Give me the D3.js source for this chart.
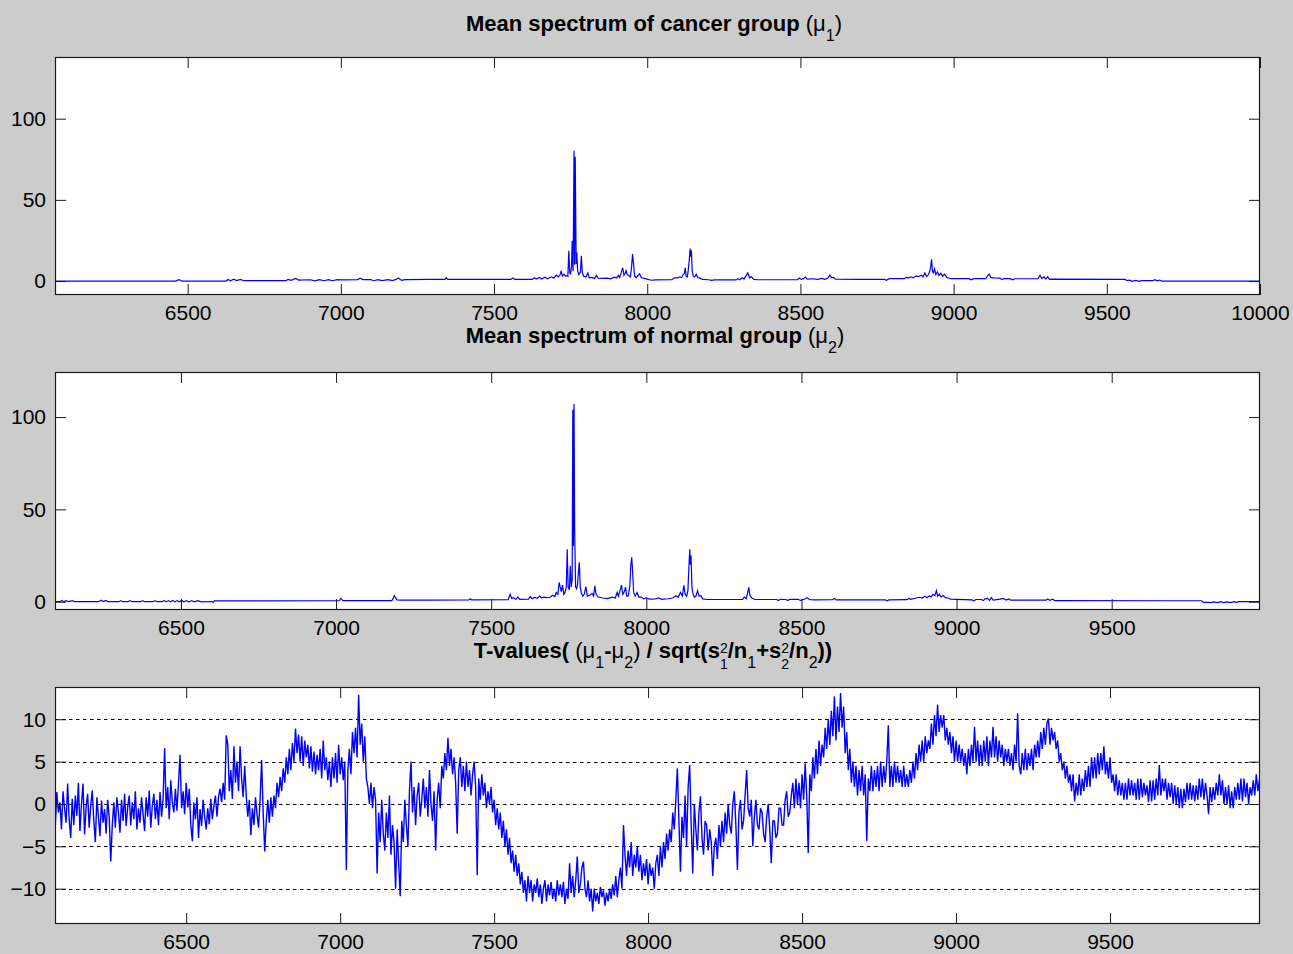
<!DOCTYPE html>
<html>
<head>
<meta charset="utf-8">
<script src="https://cdn.jsdelivr.net/npm/d3@7"></script>
<style>
  body { margin: 0; background: #cccccc; }
  svg { display: block; }
  text { font-family: "Liberation Sans", Arial, Helvetica, sans-serif; fill: #000; }
</style>
</head>
<body>
<svg id="fig" width="1293" height="954"></svg>
<script>
// ---- Mean spectrum of the cancer group: [m/z, intensity]
const cancerSpectrum = [
  [6067,0],[6300,0],[6460,0],[6472,0.9],[6482,0],[6625,0],[6632,1.0],[6640,0.2],[6650,1.1],[6660,0.3],[6672,1.0],[6684,0.2],
  [6820,0.2],[6828,1.0],[6838,0.4],[6852,1.6],[6862,0.6],[6900,0.8],[6915,0.1],[6930,0.9],[6945,0.2],[6960,0.9],[6972,0.2],
  [6988,0.9],[7000,0.7],[7055,0.9],[7063,1.8],[7072,0.9],[7098,0.9],[7106,0.2],[7122,0.9],[7134,0.3],[7155,0.9],[7168,0.3],
  [7180,1.0],[7188,1.9],[7198,0.4],[7210,0.9],[7290,1.0],[7340,1.0],[7344,2.0],[7349,1.0],[7555,1.0],[7562,1.9],[7568,1.0],
  [7625,1.0],[7632,2.0],[7638,1.2],[7648,2.2],[7655,1.2],[7666,2.4],[7674,1.4],[7688,2.6],[7695,1.8],[7703,3.6],[7710,2.5],
  [7716,4.0],[7719,6.3],[7723,3.0],[7728,4.2],[7733,3.0],[7738,3.5],[7741,3.0],[7744,18.7],[7747,5.0],[7750,4.5],[7753,9.0],
  [7755,24.8],[7758,6.0],[7761,80.2],[7763,10],[7765,76.5],[7768,10.5],[7770,17.5],[7773,6.0],[7777,4.0],[7782,5.5],
  [7785,15.6],[7788,5.5],[7792,3.0],[7800,2.5],[7806,5.0],[7811,2.0],[7820,2.2],[7828,1.5],[7834,3.5],[7840,1.8],[7855,1.6],
  [7870,1.8],[7880,1.4],[7893,2.4],[7900,1.8],[7906,3.5],[7910,2.2],[7915,5.0],[7920,8.2],[7924,3.5],[7928,4.8],[7931,6.5],
  [7935,3.8],[7939,3.6],[7945,2.5],[7949,9.0],[7952,16.6],[7955,11.0],[7959,3.0],[7964,2.0],[7970,3.5],[7975,4.5],[7981,2.0],
  [7990,1.6],[8005,0.9],[8015,0.5],[8025,0.7],[8080,0.8],[8088,2.0],[8100,2.0],[8106,2.6],[8112,2.0],[8117,4.0],[8121,4.5],
  [8124,8.2],[8127,3.0],[8131,2.5],[8134,7.0],[8137,12.5],[8140,20.0],[8142,15.0],[8144,19.0],[8147,6.0],[8150,3.0],[8155,2.5],
  [8160,4.2],[8165,2.2],[8172,1.8],[8180,1.0],[8200,0.8],[8210,0.4],[8220,0.7],[8290,0.7],[8296,1.5],[8302,0.8],[8310,2.0],
  [8316,1.2],[8322,3.2],[8328,5.0],[8334,2.0],[8340,2.6],[8348,1.0],[8360,0.8],[8490,0.8],[8496,1.8],[8503,1.0],[8510,1.5],
  [8516,2.5],[8522,1.2],[8540,1.4],[8555,1.0],[8570,1.6],[8580,1.0],[8590,1.8],[8596,3.6],[8602,2.0],[8608,2.2],[8614,1.2],
  [8692,1.0],[8775,1.0],[8780,0.5],[8790,1.5],[8840,1.5],[8846,2.4],[8852,1.8],[8860,2.6],[8868,2.0],[8878,3.2],[8885,2.8],
  [8895,3.6],[8900,2.5],[8906,5.0],[8912,2.8],[8918,4.0],[8922,6.0],[8925,8.5],[8928,13.4],[8931,6.0],[8934,5.0],[8938,7.5],
  [8942,4.0],[8947,5.5],[8952,3.5],[8958,4.8],[8964,3.0],[8970,4.2],[8978,2.2],[8990,1.5],[9050,1.5],[9058,0.8],[9066,1.5],
  [9105,1.5],[9110,3.0],[9116,4.3],[9122,2.2],[9130,2.0],[9150,1.8],[9158,1.0],[9166,1.5],[9185,1.5],[9192,0.8],[9200,1.4],
  [9275,1.4],[9282,3.5],[9288,1.5],[9295,2.6],[9301,1.2],[9307,2.6],[9313,1.0],[9320,1.2],[9560,1.0],[9566,0.2],[9575,0.5],
  [9582,-0.2],[9595,0.4],[9605,-0.2],[9615,0.3],[9650,0.2],[9657,0.8],[9664,0.1],[9672,0.6],[9680,0.0],[10000,0.0]
];

// ---- Mean spectrum of the normal group: [m/z, intensity]
const normalSpectrum = [
  [6094,0],[6110,0],[6116,0.7],[6122,0],[6130,0.6],[6138,0],[6150,0.6],[6158,0],[6235,0],[6242,0.8],[6250,0.1],[6258,0.7],
  [6265,0],[6300,0],[6306,0.6],[6312,0],[6330,0],[6336,0.6],[6342,0],[6370,0],[6376,0.6],[6382,0],[6410,0],[6416,0.6],
  [6422,0],[6440,0],[6446,0.7],[6452,-0.1],[6460,0.6],[6466,-0.1],[6474,0.7],[6480,-0.1],[6488,0.6],[6494,-0.1],[6502,0.7],
  [6510,-0.1],[6518,0.6],[6526,-0.2],[6534,0.6],[6542,-0.1],[6555,0.6],[6565,-0.1],[6600,0.1],[6604,-0.4],[6608,0.4],
  [7010,0.5],[7016,1.8],[7022,0.6],[7180,0.6],[7188,3.2],[7196,1.0],[7210,0.8],[7300,0.9],[7428,1.0],[7432,1.6],[7437,1.0],
  [7555,1.1],[7561,4.0],[7566,1.8],[7572,2.2],[7580,1.2],[7586,2.6],[7592,1.3],[7620,1.4],[7626,2.8],[7632,1.6],[7640,2.3],
  [7648,1.8],[7656,3.0],[7662,2.0],[7670,2.6],[7678,2.2],[7690,2.4],[7698,3.5],[7705,2.8],[7710,5.0],[7715,4.0],[7719,10.5],
  [7723,7.5],[7726,5.5],[7730,9.0],[7734,4.0],[7738,5.0],[7742,8.0],[7745,28.4],[7748,8.0],[7752,6.5],[7755,19.4],[7758,8.0],
  [7761,12],[7763,104],[7765,30],[7767,107],[7769,39],[7772,8.0],[7775,7.0],[7778,9.0],[7781,16],[7784,21.3],[7787,8.0],
  [7790,5.0],[7795,3.0],[7800,4.0],[7805,8.2],[7810,3.0],[7818,3.5],[7825,4.5],[7830,3.0],[7834,8.6],[7838,4.0],[7845,2.5],
  [7860,2.0],[7875,1.7],[7890,2.5],[7900,2.0],[7906,5.0],[7910,3.0],[7916,6.5],[7920,9.0],[7924,4.0],[7928,5.0],[7933,7.8],
  [7937,3.0],[7942,3.2],[7947,9.0],[7950,20],[7953,24],[7956,16],[7959,5.0],[7964,3.0],[7970,5.0],[7976,2.5],[7984,2.5],
  [7992,1.5],[8000,2.0],[8010,1.4],[8030,1.5],[8040,2.0],[8050,1.3],[8070,1.6],[8085,2.0],[8095,3.2],[8103,2.5],[8110,5.0],
  [8116,3.0],[8121,8.8],[8125,4.0],[8130,3.0],[8134,6.0],[8137,18],[8140,28.4],[8142,20],[8144,25],[8147,8.0],[8150,4.5],
  [8155,2.5],[8160,3.0],[8165,6.0],[8170,3.0],[8176,3.2],[8182,1.5],[8195,1.2],[8310,1.2],[8316,2.5],[8322,1.6],[8326,4.5],
  [8330,7.8],[8334,3.5],[8340,2.0],[8350,1.2],[8420,1.2],[8426,0.6],[8432,1.3],[8450,1.2],[8456,0.6],[8462,1.3],[8490,1.3],
  [8496,0.7],[8510,1.3],[8518,2.2],[8525,1.2],[8540,1.0],[8600,1.1],[8606,1.8],[8612,1.0],[8680,1.0],[8770,1.0],[8775,0.5],
  [8782,1.0],[8840,1.1],[8846,1.8],[8852,1.3],[8870,2.0],[8880,2.4],[8890,2.0],[8898,3.0],[8905,2.2],[8912,3.2],[8918,2.6],
  [8924,4.0],[8930,3.2],[8935,6.0],[8939,3.0],[8944,4.0],[8950,2.6],[8957,3.4],[8964,2.2],[8972,2.0],[8980,1.4],[9000,1.3],
  [9050,1.0],[9056,0.5],[9062,1.2],[9080,1.2],[9086,0.6],[9092,1.5],[9100,1.8],[9106,0.7],[9112,2.2],[9118,0.9],[9140,1.4],
  [9150,1.8],[9160,0.9],[9168,1.5],[9175,0.8],[9288,0.8],[9294,1.5],[9300,0.7],[9310,1.4],[9316,0.6],[9330,0.6],[9700,0.5],
  [9790,0.5],[9795,-0.4],[9810,-0.3],[9820,-0.5],[9830,-0.1],[9840,-0.5],[9852,0.0],[9860,-0.5],[9872,-0.1],[9882,-0.5],
  [9895,0.0],[9902,-0.4],[9910,0.0],[9978,0.0]
];

// ---- T-values, sampled every tMzStep starting at tMzStart (one row = 50 m/z)
const tMzStart = 6070;
const tMzStep = 5;
const tValues = [
  0.8, -2.6, 1.4, -1.0, 0.2, -3.0, 1.5, -0.5, -2.2, 2.4,
  -1.8, -4.0, 0.6, -2.5, 1.0, -1.4, 2.5, -3.2, 0.0, 2.4,
  -3.6, -0.4, 1.2, -2.8, -0.2, 1.6, -2.0, -4.5, 0.8, -1.5,
  -3.8, 0.4, -2.2, -0.6, -3.5, 0.5, -1.5, -6.8, -2.5, 0.2,
  -2.8, 0.8, -1.0, -3.4, 0.5, -2.0, 1.2, -2.6, -0.4, 1.0,
  -2.5, 0.2, -1.8, 1.5, -3.0, -0.5, -2.2, 0.8, -1.2, -3.2,
  0.8, -1.5, 1.6, -2.8, -0.2, 1.2, -1.8, 0.5, -2.5, 1.4,
  -1.5, 0.6, 6.6, -0.5, 2.0, -1.8, 2.8, 0.2, -1.0, 1.8,
  -0.8, 2.4, 5.8, -0.5, 1.5, -1.2, 2.5, -0.4, 1.8, -2.5,
  -4.4, 0.2, -1.8, 0.8, -4.0, -0.6, -2.6, 0.5, -1.5, -3.0,
  -0.5, -2.4, 0.6, -1.8, -0.2, 1.0, -1.5, 0.8, 1.8, 0.2,
  2.5, 0.5, 8.1, 7.0, 1.5, 4.0, 0.6, 6.8, 2.5, 5.0,
  1.5, 6.8, 3.0, 0.8, 4.5, 1.0, -1.5, 0.5, -3.7, -0.5,
  -2.5, 0.8, -1.2, -2.8, 0.5, 5.2, -1.0, -5.6, -2.0, 0.5,
  -2.2, 0.8, -1.5, 1.0, -0.5, 2.5, 0.8, 3.2, 1.5, 4.2,
  2.5, 5.5, 3.5, 6.5, 4.0, 7.2, 5.0, 8.9, 6.0, 8.2,
  5.0, 8.0, 4.5, 7.5, 5.5, 7.0, 4.2, 6.8, 3.8, 6.2,
  3.5, 5.8, 4.0, 6.5, 3.0, 7.5, 4.0, 5.5, 2.8, 5.0,
  2.0, 5.5, 3.0, 6.0, 2.5, 7.0, 3.5, 5.5, 2.8, 5.0,
  -7.8, 4.0, 6.5, 3.5, 8.5, 6.0, 9.0, 5.5, 12.9, 7.0,
  9.5, 5.0, 8.0, 3.0, 2.0, 0.0, 2.5, -0.5, 2.0, 0.5,
  -8.2, -1.0, -4.5, 0.5, -3.5, -5.5, -1.0, -4.0, 1.0, -6.0,
  -2.5, -4.5, -10.0, -3.0, -7.0, -10.9, -2.0, -4.5, 0.5, -2.5,
  -5.0, 1.5, 5.0, -1.0, 2.0, -2.5, 1.0, 2.5, -1.5, 0.5,
  3.0, -0.5, 2.0, -1.5, 4.0, 0.0, -2.0, 1.5, -5.5, 0.5,
  2.5, -0.5, 4.5, 3.0, 6.0, 4.0, 7.8, 4.5, 6.5, 3.5,
  5.5, 2.5, -3.5, 4.0, 5.5, 2.0, 4.5, 1.5, 5.0, 2.0,
  4.0, 1.0, 3.5, 5.0, 2.0, -8.4, 3.0, 0.5, 3.5, 1.0,
  2.5, -0.5, 1.5, 0.0, 2.0, -1.0, 0.5, -2.5, -0.5, -3.0,
  -1.0, -4.0, -2.0, -5.0, -3.0, -6.0, -4.0, -7.0, -5.5, -8.0,
  -6.0, -8.5, -7.0, -9.5, -8.0, -10.5, -9.0, -11.5, -8.5, -10.5,
  -9.0, -11.5, -9.5, -10.5, -8.8, -11.0, -9.5, -11.8, -10.0, -9.0,
  -11.5, -9.5, -10.8, -9.2, -11.2, -10.0, -11.5, -9.0, -10.8, -9.5,
  -11.0, -9.2, -11.8, -10.0, -11.2, -7.0, -10.5, -8.5, -11.0, -9.0,
  -6.2, -10.5, -9.5, -7.5, -6.8, -10.0, -11.0, -9.0, -11.5, -10.0,
  -12.7, -10.0, -11.5, -10.5, -11.8, -9.8, -11.0, -10.2, -12.0, -10.5,
  -11.5, -10.0, -11.2, -9.5, -10.8, -8.5, -11.0, -9.0, -7.5, -10.0,
  -2.5, -6.0, -8.5, -5.5, -7.5, -4.5, -8.5, -6.0, -7.5, -5.0,
  -8.0, -6.0, -9.0, -7.0, -8.5, -6.5, -9.5, -7.0, -8.5, -7.5,
  -10.0, -7.0, -6.0, -8.5, -5.0, -7.5, -4.5, -6.5, -3.5, -5.5,
  -3.0, -4.5, -1.0, -3.0, 0.5, 4.2, -2.0, -8.0, -1.5, -4.0,
  1.0, -5.0, 2.0, 4.6, -2.5, -8.2, 0.0, -3.0, -5.5, -1.0,
  0.9, -4.0, -6.0, -2.0, -2.5, -5.5, -3.0, -4.5, -8.5, -5.0,
  -4.0, -6.5, -2.5, -5.0, -2.0, -4.5, -1.0, -3.5, 0.0, -2.5,
  -3.5, 0.0, 1.5, -2.5, -7.8, -1.0, 0.5, -3.0, -2.0, 1.0,
  4.0, -0.5, -1.5, 0.5, -5.0, -1.5, 0.5, -2.5, -3.0, -0.5,
  -1.0, -3.5, -4.5, -1.5, 0.0, -3.0, -7.0, -2.0, -2.0, -4.0,
  -3.5, -0.5, -0.5, -2.5, -2.5, 0.5, 1.5, -1.5, -1.0, 1.0,
  2.5, -0.5, 3.0, 0.0, 2.5, -0.5, 3.5, 0.5, 4.8, 1.0,
  -5.8, 3.5, 1.5, 5.5, 3.0, 6.5, 3.5, 7.5, 4.5, 7.0,
  5.5, 9.0, 6.5, 10.0, 7.0, 11.0, 8.0, 12.7, 7.5, 11.5,
  8.5, 13.1, 9.0, 11.5, 6.0, 8.5, 4.0, 6.5, 2.5, 5.0,
  2.0, 4.5, 1.0, 4.0, 1.5, 4.5, 1.0, 3.5, -4.4, 3.0,
  1.5, 4.5, 1.5, 4.0, 2.0, 4.5, 1.5, 5.0, 2.0, 4.5,
  2.5, 5.0, 9.3, 2.0, 4.5, 2.0, 5.0, 2.5, 4.5, 2.5,
  4.0, 2.0, 4.5, 2.0, 3.5, 2.0, 4.0, 2.5, 5.0, 3.0,
  6.0, 4.0, 7.0, 5.0, 7.5, 5.0, 8.0, 6.0, 7.5, 6.5,
  9.5, 7.0, 10.5, 8.0, 11.7, 8.5, 10.5, 9.0, 10.5, 7.5,
  9.0, 7.0, 8.5, 6.0, 8.0, 5.0, 7.5, 5.0, 7.0, 5.0,
  6.5, 4.5, 6.0, 3.5, 6.5, 4.5, 7.0, 5.0, 9.1, 5.0,
  7.5, 4.5, 7.0, 4.5, 7.5, 5.0, 8.0, 4.5, 7.5, 5.5,
  9.1, 5.5, 8.0, 5.0, 7.5, 5.5, 7.0, 4.5, 6.5, 5.0,
  6.5, 4.5, 6.0, 4.0, 7.0, 5.0, 10.7, 4.5, 3.5, 6.0,
  4.0, 6.5, 4.0, 6.0, 4.5, 6.5, 4.0, 7.0, 5.5, 7.5,
  5.5, 8.5, 6.5, 9.0, 7.0, 9.5, 10.1, 7.0, 9.0, 7.5,
  8.5, 6.5, 7.5, 5.0, 6.0, 4.0, 5.0, 3.0, 4.5, 2.5,
  3.5, 1.5, 3.5, 0.3, 2.5, 1.0, 3.5, 1.0, 3.0, 1.5,
  4.0, 2.0, 4.5, 2.0, 5.5, 3.0, 5.5, 3.0, 6.0, 3.5,
  6.0, 4.0, 6.8, 3.5, 5.0, 3.0, 5.5, 2.5, 3.5, 1.5,
  3.5, 1.0, 2.8, 1.0, 2.5, 0.5, 2.5, 0.5, 3.0, 1.0,
  2.8, 1.0, 2.5, 0.5, 3.0, 0.5, 3.0, 0.8, 2.5, 1.0,
  2.2, 0.2, 2.8, 0.3, 2.8, 0.5, 3.0, 1.0, 4.6, 1.0,
  3.0, 1.5, 3.0, 0.5, 2.5, 0.8, 2.5, 0.0, 2.2, 0.0,
  2.0, -0.5, 1.8, -0.5, 1.8, 0.2, 2.5, 0.5, 2.5, 0.5,
  2.2, 0.3, 2.2, 0.5, 3.0, 0.8, 3.0, 0.5, 2.5, 1.0,
  -1.2, 2.0, 0.2, 2.0, 0.5, 2.5, 1.0, 3.5, 1.0, 2.8,
  0.0, 2.0, 0.0, 2.2, -0.5, 1.5, -0.5, 2.0, 0.5, 2.5,
  0.5, 3.0, 0.3, 3.0, 0.8, 2.5, 0.0, 2.0, 1.0, 2.8,
  1.0, 3.5, 1.5, 2.8, 2.5
];
const tSeries = tValues.map((v, i) => [tMzStart + i * tMzStep, v]);

// ---- Axis ticks
const spectrumXTicksTop = [6500, 7000, 7500, 8000, 8500, 9000, 9500, 10000];
const spectrumXTicks = [6500, 7000, 7500, 8000, 8500, 9000, 9500];
const spectrumYTicks = [0, 50, 100];
const tYTicks = [-10, -5, 0, 5, 10];

const svg = d3.select("#fig");
const LINE_BLUE = "#0000ff";
const AXIS_COLOR = "#1a1a1a";

function drawPanel(cfg) {
  const { id, box, xDomain, yDomain, xTicks, yTicks, series, grid, lineWidth } = cfg;
  const x = d3.scaleLinear().domain(xDomain).range([box.left, box.right]);
  const y = d3.scaleLinear().domain(yDomain).range([box.bottom, box.top]);
  const g = svg.append("g");

  g.append("rect")
    .attr("x", box.left).attr("y", box.top)
    .attr("width", box.right - box.left).attr("height", box.bottom - box.top)
    .attr("fill", "#ffffff");

  svg.append("clipPath").attr("id", id)
    .append("rect")
    .attr("x", box.left).attr("y", box.top)
    .attr("width", box.right - box.left).attr("height", box.bottom - box.top);

  if (grid) {
    g.append("g").selectAll("line").data(yTicks).join("line")
      .attr("x1", box.left).attr("x2", box.right)
      .attr("y1", d => Math.round(y(d)) + 0.5).attr("y2", d => Math.round(y(d)) + 0.5)
      .attr("stroke", "#000").attr("stroke-width", 1)
      .attr("stroke-dasharray", "3.5,3.5");
  }

  const line = d3.line().x(d => x(d[0])).y(d => y(d[1]));
  g.append("path")
    .attr("clip-path", `url(#${id})`)
    .attr("d", line(series))
    .attr("fill", "none")
    .attr("stroke", LINE_BLUE)
    .attr("stroke-width", lineWidth)
    .attr("stroke-linejoin", "miter");

  const tick = 11;
  const styleAxis = sel => {
    sel.select(".domain").remove();
    sel.attr("color", AXIS_COLOR)
      .attr("font-size", null).attr("font-family", null);
    sel.selectAll("text").style("font-size", "21px").attr("fill", "#111");
  };

  g.append("g").attr("transform", `translate(0,${box.bottom})`)
    .call(d3.axisBottom(x).tickValues(xTicks).tickSizeInner(-tick).tickSizeOuter(0).tickPadding(10).tickFormat(d3.format("d")))
    .call(styleAxis);
  g.append("g").attr("transform", `translate(0,${box.top})`)
    .call(d3.axisTop(x).tickValues(xTicks).tickSizeInner(-tick).tickSizeOuter(0).tickFormat(""))
    .call(styleAxis);
  g.append("g").attr("transform", `translate(${box.left},0)`)
    .call(d3.axisLeft(y).tickValues(yTicks).tickSizeInner(-tick).tickSizeOuter(0).tickPadding(9).tickFormat(d3.format("d")))
    .call(styleAxis);
  g.append("g").attr("transform", `translate(${box.right},0)`)
    .call(d3.axisRight(y).tickValues(yTicks).tickSizeInner(-tick).tickSizeOuter(0).tickFormat(""))
    .call(styleAxis);

  g.append("rect")
    .attr("x", box.left + 0.5).attr("y", box.top + 0.5)
    .attr("width", box.right - box.left - 1).attr("height", box.bottom - box.top - 1)
    .attr("fill", "none").attr("stroke", AXIS_COLOR).attr("stroke-width", 1.2);
}

// Title made of runs; each run sits at its own baseline offset (sub/superscripts)
function drawTitle(cx, baseline, parts) {
  const t = svg.append("text")
    .attr("x", cx).attr("y", baseline)
    .attr("text-anchor", "middle")
    .style("font-size", "22px");
  let cur = 0;
  parts.forEach(p => {
    const off = p.off || 0;
    const ts = t.append("tspan").text(p.t)
      .attr("dy", off - cur)
      .attr("font-weight", p.b ? "bold" : "normal");
    cur = off;
    if (p.size) ts.style("font-size", p.size + "px");
    if (p.dx) ts.attr("dx", p.dx);
  });
}

drawPanel({
  id: "clipCancer",
  box: { left: 55, top: 57, right: 1260, bottom: 295 },
  xDomain: [6067, 10000], yDomain: [-8.6, 138.0],
  xTicks: spectrumXTicksTop, yTicks: spectrumYTicks,
  series: cancerSpectrum, grid: false, lineWidth: 1.2
});
drawPanel({
  id: "clipNormal",
  box: { left: 55, top: 372, right: 1260, bottom: 610 },
  xDomain: [6094, 9978], yDomain: [-4.5, 124.4],
  xTicks: spectrumXTicks, yTicks: spectrumYTicks,
  series: normalSpectrum, grid: false, lineWidth: 1.2
});
drawPanel({
  id: "clipT",
  box: { left: 55, top: 687, right: 1260, bottom: 924 },
  xDomain: [6074, 9987], yDomain: [-14.17, 13.81],
  xTicks: spectrumXTicks, yTicks: tYTicks,
  series: tSeries, grid: true, lineWidth: 1.4
});

drawTitle(654, 31, [
  { t: "Mean spectrum of cancer group ", b: true },
  { t: "(μ" }, { t: "1", off: 10, size: 16 }, { t: ")" }
]);
drawTitle(655, 343, [
  { t: "Mean spectrum of normal group ", b: true },
  { t: "(μ" }, { t: "2", off: 10, size: 16 }, { t: ")" }
]);
drawTitle(653, 658, [
  { t: "T-values( ", b: true }, { t: "(μ" }, { t: "1", off: 10, size: 16 },
  { t: "-", b: true }, { t: "μ" }, { t: "2", off: 10, size: 16 }, { t: ")" },
  { t: " / sqrt(s", b: true },
  { t: "2", off: -5, size: 14 }, { t: "1", off: 11, size: 14, dx: -7.8 },
  { t: "/n", b: true }, { t: "1", off: 10, size: 16 },
  { t: "+s", b: true },
  { t: "2", off: -5, size: 14 }, { t: "2", off: 11, size: 14, dx: -7.8 },
  { t: "/n", b: true }, { t: "2", off: 10, size: 16 },
  { t: "))", b: true }
]);
</script>
</body>
</html>
